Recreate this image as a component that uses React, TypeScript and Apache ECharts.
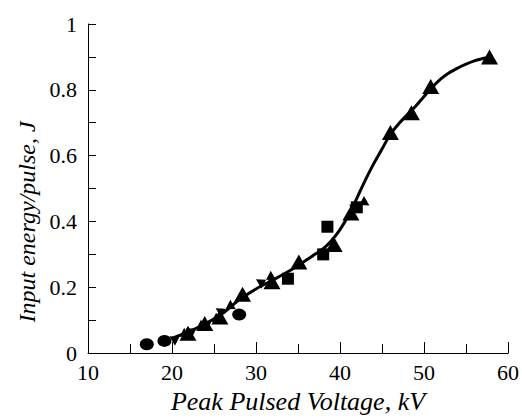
import React, { useEffect, useRef } from "react";
import * as echarts from "echarts";

// Data
const triangleX = [21.9, 23.9, 25.7, 28.4, 31.9, 35.1, 39.3, 41.3, 46.0, 48.5, 50.8, 57.8];
const triangleY = [0.06, 0.09, 0.11, 0.179, 0.217, 0.277, 0.33, 0.426, 0.67, 0.73, 0.81, 0.90];

const squareX = [33.8, 38.0, 38.5, 42.0];
const squareY = [0.226, 0.30, 0.384, 0.443];

const circleX = [17.0, 19.1, 28.0];
const circleY = [0.027, 0.037, 0.117];

const bowtieX = [20.9, 22.9, 24.7, 26.4, 31.2, 42.3];
const bowtieY = [0.05, 0.074, 0.095, 0.135, 0.223, 0.45];

const fitX = [20, 22, 24, 26, 28, 30, 32, 34, 36, 37, 38, 39, 40, 41, 42, 43, 44, 45, 46, 47, 48, 49, 50, 51, 52, 53, 54, 55, 56, 57, 57.8];
const fitY = [0.045, 0.065, 0.09, 0.12, 0.162, 0.195, 0.222, 0.25, 0.283, 0.30, 0.317, 0.342, 0.375, 0.418, 0.47, 0.525, 0.575, 0.62, 0.665, 0.697, 0.724, 0.75, 0.78, 0.808, 0.833, 0.852, 0.866, 0.878, 0.888, 0.895, 0.90];

const xAxisTitle = "Peak Pulsed Voltage, kV";
const yAxisTitle = "Input energy/pulse, J";

const pairs = (xs: number[], ys: number[]) => xs.map((x, i) => [x, ys[i]]);

const FONT = "Liberation Serif, Times New Roman, serif";
const INK = "#000";
const BOWTIE = "path://M0,0 L10,6 L0,12 Z M20,0 L10,6 L20,12 Z";

export default function App() {
  const ref = useRef<HTMLDivElement>(null);
  useEffect(() => {
    if (!ref.current) return;
    const chart = echarts.init(ref.current, undefined, { renderer: "svg" });
    chart.setOption({
      animation: false,
      backgroundColor: "#fff",
      grid: { left: 88, right: 12, top: 24, bottom: 60 },
      xAxis: {
        type: "value",
        min: 10,
        max: 60,
        interval: 10,
        name: xAxisTitle,
        nameLocation: "middle",
        nameGap: 31,
        nameTextStyle: { fontFamily: FONT, fontStyle: "italic", fontSize: 26, color: INK },
        axisLine: { show: true, lineStyle: { color: INK, width: 1 } },
        axisTick: { show: true, inside: true, length: 11, lineStyle: { color: INK } },
        minorTick: { show: true, splitNumber: 2, length: 9, lineStyle: { color: INK } },
        axisLabel: { fontFamily: FONT, fontSize: 22, color: INK, margin: 8 },
        splitLine: { show: false },
      },
      yAxis: {
        type: "value",
        min: 0,
        max: 1,
        interval: 0.2,
        axisLine: { show: true, lineStyle: { color: INK, width: 1 } },
        axisTick: { show: true, inside: true, length: 8, lineStyle: { color: INK } },
        minorTick: { show: true, splitNumber: 2, length: 8, lineStyle: { color: INK } },
        axisLabel: { fontFamily: FONT, fontSize: 22, color: INK, margin: 11 },
        splitLine: { show: false },
      },
      graphic: [
        {
          type: "text",
          x: 27,
          y: 222,
          rotation: Math.PI / 2,
          style: {
            text: yAxisTitle,
            font: `italic 24px ${FONT}`,
            fill: INK,
            textAlign: "center",
            textVerticalAlign: "middle",
          },
        },
      ],
      series: [
        {
          type: "line",
          data: pairs(fitX, fitY),
          smooth: 0.3,
          showSymbol: false,
          lineStyle: { color: INK, width: 3 },
          z: 2,
        },
        {
          type: "scatter",
          data: pairs(circleX, circleY),
          symbol: "circle",
          symbolSize: [14, 12],
          itemStyle: { color: INK, opacity: 1 },
          z: 3,
        },
        {
          type: "scatter",
          data: pairs(bowtieX, bowtieY),
          symbol: BOWTIE,
          symbolSize: [17, 11],
          symbolRotate: 30,
          itemStyle: { color: INK, opacity: 1 },
          z: 3,
        },
        {
          type: "scatter",
          data: pairs(squareX, squareY),
          symbol: "rect",
          symbolSize: 12,
          itemStyle: { color: INK, opacity: 1 },
          z: 3,
        },
        {
          type: "scatter",
          data: pairs(triangleX, triangleY),
          symbol: "triangle",
          symbolSize: [17, 15],
          itemStyle: { color: INK, opacity: 1 },
          z: 4,
        },
      ],
    });
    return () => chart.dispose();
  }, []);
  return (
    <div
      ref={ref}
      style={{ position: "fixed", left: 0, top: 0, width: 522, height: 419, background: "#fff" }}
    />
  );
}
